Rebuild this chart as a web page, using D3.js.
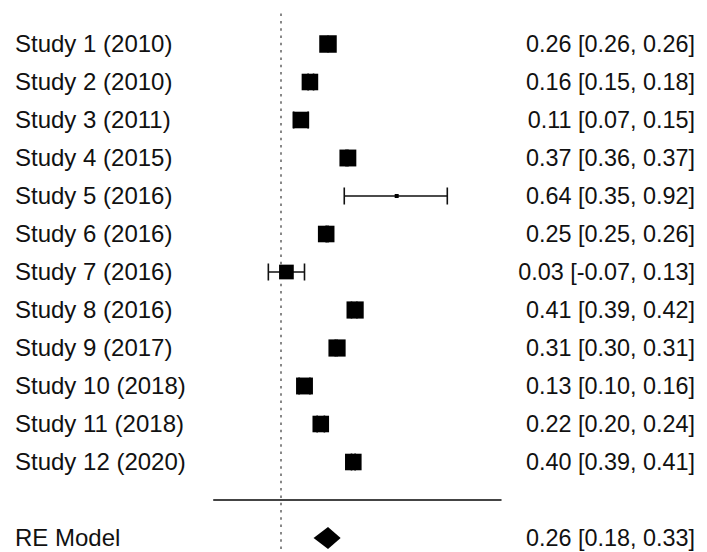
<!DOCTYPE html>
<head>
<meta charset="utf-8">
<style>
body, html {
  margin: 0;
  padding: 0;
  background: #fff;
  font-family: "Liberation Sans", Arial, sans-serif;
}
.label {
  font-size: 24px;
  fill: #111;
}
.stat {
  font-size: 23.4px;
  fill: #111;
}
.ref {
  stroke: #888;
  stroke-width: 2;
  stroke-dasharray: 2.5 4.8;
}
.sep {
  stroke: #444;
  stroke-width: 2;
}
.ci {
  stroke: #111;
  stroke-width: 1.6;
  fill: none;
}
</style>
<script src="https://d3js.org/d3.v7.min.js"></script>
</head>
<body>
<script>

// studies, top to bottom
var studies = ["Study 1 (2010)", "Study 2 (2010)", "Study 3 (2011)", "Study 4 (2015)",
               "Study 5 (2016)", "Study 6 (2016)", "Study 7 (2016)", "Study 8 (2016)",
               "Study 9 (2017)", "Study 10 (2018)", "Study 11 (2018)", "Study 12 (2020)"];
var estimates = [0.26, 0.16, 0.11, 0.37, 0.64, 0.25, 0.03, 0.41, 0.31, 0.13, 0.22, 0.40];
var lower     = [0.26, 0.15, 0.07, 0.36, 0.35, 0.25, -0.07, 0.39, 0.30, 0.10, 0.20, 0.39];
var upper     = [0.26, 0.18, 0.15, 0.37, 0.92, 0.26, 0.13, 0.42, 0.31, 0.16, 0.24, 0.41];
var weights   = [9.2, 8.6, 8.6, 8.8, 0.5, 8.6, 7.4, 9.0, 9.0, 8.8, 8.6, 8.6];

// pooled random-effects estimate
var model = {label: "RE Model", est: 0.26, lo: 0.18, hi: 0.33};

//==========================================
var width = 707,
    height = 552;

var x = d3.scaleLinear()
    .domain([0, 0.92])
    .range([281, 447.3]);

// row 12 = first study, row 1 = last study, 0 = separator, -1 = model
var y = d3.scaleLinear()
    .domain([12, -1])
    .range([44, 538]);

var size = d3.scaleLinear()
    .domain([0.5, 9.2])
    .range([4, 17.5]);

var fmt = d3.formatLocale({decimal: ".", thousands: ",", grouping: [3], currency: ["", ""], minus: "-"})
    .format(".2f");

var svg = d3.select("body").append("svg")
    .attr("width", width)
    .attr("height", height);

var rows = studies.map(function(s, i) {
  return {label: s, est: estimates[i], lo: lower[i], hi: upper[i], w: weights[i], row: 12 - i};
});

// reference line at zero
svg.append("line")
    .attr("class", "ref")
    .attr("x1", x(0)).attr("x2", x(0))
    .attr("y1", y(12.8)).attr("y2", height);

// separator above the model row
svg.append("line")
    .attr("class", "sep")
    .attr("x1", x(-0.375)).attr("x2", x(1.22))
    .attr("y1", y(0)).attr("y2", y(0));

var g = svg.selectAll("g.study")
    .data(rows)
  .enter().append("g")
    .attr("class", "study")
    .attr("transform", function(d) { return "translate(0," + y(d.row) + ")"; });

g.append("path")
    .attr("class", "ci")
    .attr("d", function(d) {
      var a = x(d.lo), b = x(d.hi), t = 8.5;
      return "M" + a + ",0H" + b + "M" + a + "," + (-t) + "V" + t + "M" + b + "," + (-t) + "V" + t;
    });

g.append("rect")
    .attr("x", function(d) { return x(d.est) - size(d.w) / 2; })
    .attr("y", function(d) { return -size(d.w) / 2; })
    .attr("width", function(d) { return size(d.w); })
    .attr("height", function(d) { return size(d.w); })
    .attr("fill", "#000");

g.append("text")
    .attr("class", "label")
    .attr("x", 15)
    .attr("dy", "0.35em")
    .text(function(d) { return d.label; });

g.append("text")
    .attr("class", "stat")
    .attr("x", 695)
    .attr("dy", "0.35em")
    .attr("text-anchor", "end")
    .text(function(d) { return fmt(d.est) + " [" + fmt(d.lo) + ", " + fmt(d.hi) + "]"; });

// model row
var ym = y(-1);
svg.append("path")
    .attr("d", "M" + x(model.lo) + "," + ym + "L" + x(model.est) + "," + (ym - 11) +
               "L" + x(model.hi) + "," + ym + "L" + x(model.est) + "," + (ym + 11) + "Z")
    .attr("fill", "#000");

svg.append("text")
    .attr("class", "label")
    .attr("x", 15).attr("y", ym)
    .attr("dy", "0.35em")
    .text(model.label);

svg.append("text")
    .attr("class", "stat")
    .attr("x", 695).attr("y", ym)
    .attr("dy", "0.35em")
    .attr("text-anchor", "end")
    .text(fmt(model.est) + " [" + fmt(model.lo) + ", " + fmt(model.hi) + "]");

</script>
</body>
